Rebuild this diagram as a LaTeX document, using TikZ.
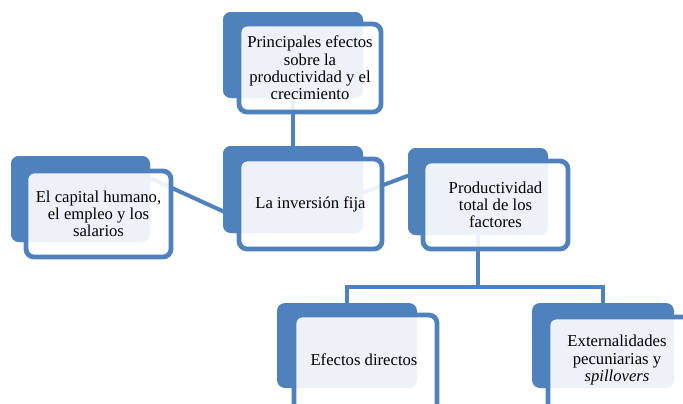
\documentclass[tikz,border=0pt]{standalone}
\usepackage{fontspec}
\setmainfont{Liberation Serif}
\definecolor{accent}{HTML}{4F81BD}
\begin{document}
\begin{tikzpicture}[x=0.75pt,y=-0.75pt,
  backbox/.style 2 args={draw=none, fill=accent, rounded corners=6pt,
     minimum width=#1*0.75pt, minimum height=#2*0.75pt, inner sep=0pt},
  frontbox/.style 2 args={draw=accent, line width=3.6pt, fill=white, fill opacity=0.9,
     text opacity=1, rounded corners=6pt, minimum width=#1*0.75pt,
     minimum height=#2*0.75pt, inner sep=0pt, align=center, lbl},
  lbl/.style={align=center, font=\fontsize{12.5}{12.9}\selectfont},
  conn/.style={draw=accent, line width=3pt}]
\useasboundingbox (0,0) rectangle (683,404);
% back boxes
\node[backbox={140}{86}] (topB) at (293,55) {};
\node[backbox={139}{86}] (leftB) at (80.5,199) {};
\node[backbox={140}{87}] (midB) at (293,189.5) {};
\node[backbox={140}{87}] (rightB) at (478,191.5) {};
\node[backbox={140}{85}] (blB) at (347,345.5) {};
\node[backbox={142}{85}] (brB) at (603,345.5) {};
% connectors
\coordinate (l1) at (150,178);
\coordinate (l2) at (240,219);
\coordinate (r1) at (330,205);
\coordinate (r2) at (410,175);
\coordinate (j) at (478,287);
\draw[conn] (l1) -- (l2);
\draw[conn] (r1) -- (r2);
\draw[conn] (topB.south -| midB.north) -- (midB.north);
\draw[conn] (rightB.south) -- (j);
\draw[conn] (j) -| (blB.north);
\draw[conn] (j) -| (brB.north);
% redraw back boxes over connectors
\node[backbox={140}{86}] at (topB) {};
\node[backbox={139}{86}] at (leftB) {};
\node[backbox={140}{87}] at (midB) {};
\node[backbox={140}{87}] at (rightB) {};
% front boxes
\node[frontbox={142}{88}] (topF) at (310,68) {Principales efectos\\sobre la\\productividad y el\\crecimiento};
\node[frontbox={145}{86}] (leftF) at (98.5,214) {El capital humano,\\el empleo y los\\salarios};
\node[frontbox={143}{90}] (midF) at (310.5,204) {La inversión fija};
\node[frontbox={145}{88}] (rightF) at (495.5,205) {Productividad\\total de los\\factores};
\node[frontbox={143}{98}] (blF) at (365.5,364) {};
\node[frontbox={144}{98}] (brF) at (620,366) {};
\node[lbl] (blT) at (364,360) {Efectos directos};
\node[lbl] (brT) at (617,360) {Externalidades\\pecuniarias y\\\textit{spillovers}};
\end{tikzpicture}
\end{document}
